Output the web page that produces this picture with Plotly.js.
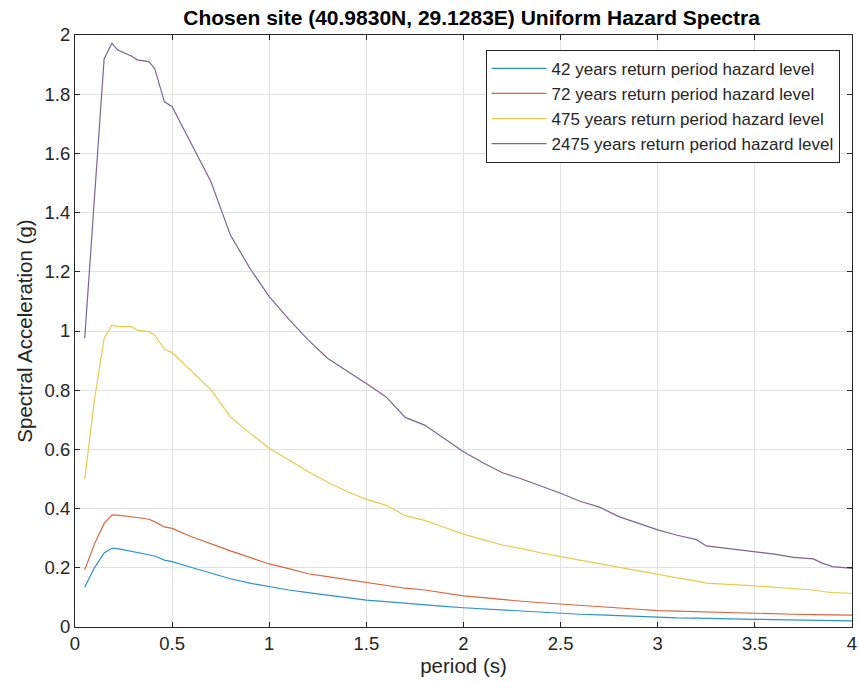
<!DOCTYPE html>
<html>
<head>
<meta charset="utf-8">
<script src="https://cdn.plot.ly/plotly-3.0.1.min.js"></script>
<style>html,body{margin:0;padding:0;background:#fff;}</style>
</head>
<body>
<div id="chart" style="width:859px;height:688px;"></div>
<script>
var periods = [0.05,0.1,0.15,0.19,0.22,0.29,0.32,0.38,0.41,0.46,0.5,0.6,0.7,0.8,0.9,1.0,1.1,1.2,1.3,1.4,1.5,1.6,1.7,1.8,1.9,2.0,2.1,2.2,2.3,2.4,2.5,2.6,2.7,2.8,2.9,3.0,3.1,3.2,3.25,3.5,3.6,3.7,3.8,3.85,3.9,4.0];

var sa42 = [0.134,0.200,0.250,0.266,0.265,0.256,0.252,0.245,0.240,0.226,0.221,0.201,0.182,0.163,0.148,0.136,0.125,0.116,0.107,0.099,0.091,0.086,0.080,0.076,0.070,0.065,0.061,0.057,0.053,0.049,0.046,0.043,0.041,0.038,0.035,0.033,0.031,0.030,0.029,0.026,0.025,0.024,0.023,0.022,0.022,0.021];

var sa72 = [0.193,0.280,0.350,0.378,0.378,0.374,0.370,0.364,0.356,0.338,0.333,0.305,0.280,0.257,0.235,0.213,0.197,0.180,0.170,0.160,0.150,0.142,0.131,0.125,0.115,0.105,0.099,0.092,0.087,0.082,0.078,0.074,0.070,0.065,0.060,0.055,0.053,0.051,0.050,0.045,0.044,0.043,0.042,0.041,0.041,0.040];

var sa475 = [0.499,0.767,0.975,1.020,1.015,1.015,1.003,0.998,0.986,0.939,0.927,0.865,0.801,0.710,0.655,0.604,0.563,0.525,0.489,0.458,0.431,0.412,0.376,0.360,0.337,0.314,0.295,0.277,0.265,0.250,0.238,0.226,0.213,0.200,0.188,0.176,0.166,0.155,0.148,0.139,0.135,0.130,0.125,0.120,0.116,0.114];

var sa2475 = [0.975,1.450,1.920,1.972,1.949,1.929,1.916,1.910,1.887,1.775,1.758,1.631,1.504,1.324,1.212,1.116,1.040,0.970,0.908,0.865,0.823,0.778,0.708,0.682,0.638,0.592,0.555,0.521,0.500,0.476,0.452,0.425,0.405,0.373,0.350,0.328,0.310,0.295,0.274,0.254,0.246,0.235,0.230,0.215,0.204,0.198];

var xTickVals = [0,0.5,1,1.5,2,2.5,3,3.5,4];
var xTickText = ["0","0.5","1","1.5","2","2.5","3","3.5","4"];
var yTickVals = [0,0.2,0.4,0.6,0.8,1,1.2,1.4,1.6,1.8,2];
var yTickText = ["0","0.2","0.4","0.6","0.8","1","1.2","1.4","1.6","1.8","2"];

var seriesNames = ["42 years return period hazard level","72 years return period hazard level","475 years return period hazard level","2475 years return period hazard level"];
var seriesColors = ["#2b93c6","#d8663f","#e6cc48","#7e6396"];
var seriesData = [sa42, sa72, sa475, sa2475];

var traces = seriesData.map(function(d,i){
  return {x: periods, y: d, type:"scatter", mode:"lines", name: seriesNames[i],
    line:{color: seriesColors[i], width:1.2}};
});

var fontFam = "Liberation Sans, Arial, sans-serif";
var axisCommon = {
  showgrid:true, gridcolor:"#e2e2e2", gridwidth:1,
  zeroline:false, showline:true, linecolor:"#262626", linewidth:1,
  mirror:"ticks", ticks:"inside", ticklen:5, tickcolor:"#262626",
  ticklabeloverflow:"allow",
  tickfont:{family:fontFam, size:18.5, color:"#262626"}
};

var layout = {
  width:859, height:688,
  margin:{l:75, r:7, t:35, b:61},
  paper_bgcolor:"#fff", plot_bgcolor:"#fff",
  title:{text:"<b>Chosen site (40.9830N, 29.1283E) Uniform Hazard Spectra</b>",
    font:{family:fontFam, size:21, color:"#000"}, x:0.549, xanchor:"center", y:0.975, yanchor:"middle"},
  xaxis:Object.assign({}, axisCommon, {range:[0,4], tickvals:xTickVals, ticktext:xTickText,
    title:{text:"period (s)", font:{family:fontFam, size:20.5, color:"#262626"}, standoff:4}}),
  yaxis:Object.assign({}, axisCommon, {range:[0,2], tickvals:yTickVals, ticktext:yTickText,
    title:{text:"Spectral Acceleration (g)", font:{family:fontFam, size:20.5, color:"#262626"}, standoff:6}}),
  legend:{x:0.984, xanchor:"right", y:0.975, yanchor:"top",
    bordercolor:"#262626", borderwidth:1, bgcolor:"#fff", itemwidth:55,
    font:{family:fontFam, size:17, color:"#262626"}, tracegroupgap:0},
  showlegend:true
};

Plotly.newPlot("chart", traces, layout, {displayModeBar:false, staticPlot:true});
</script>
</body>
</html>
